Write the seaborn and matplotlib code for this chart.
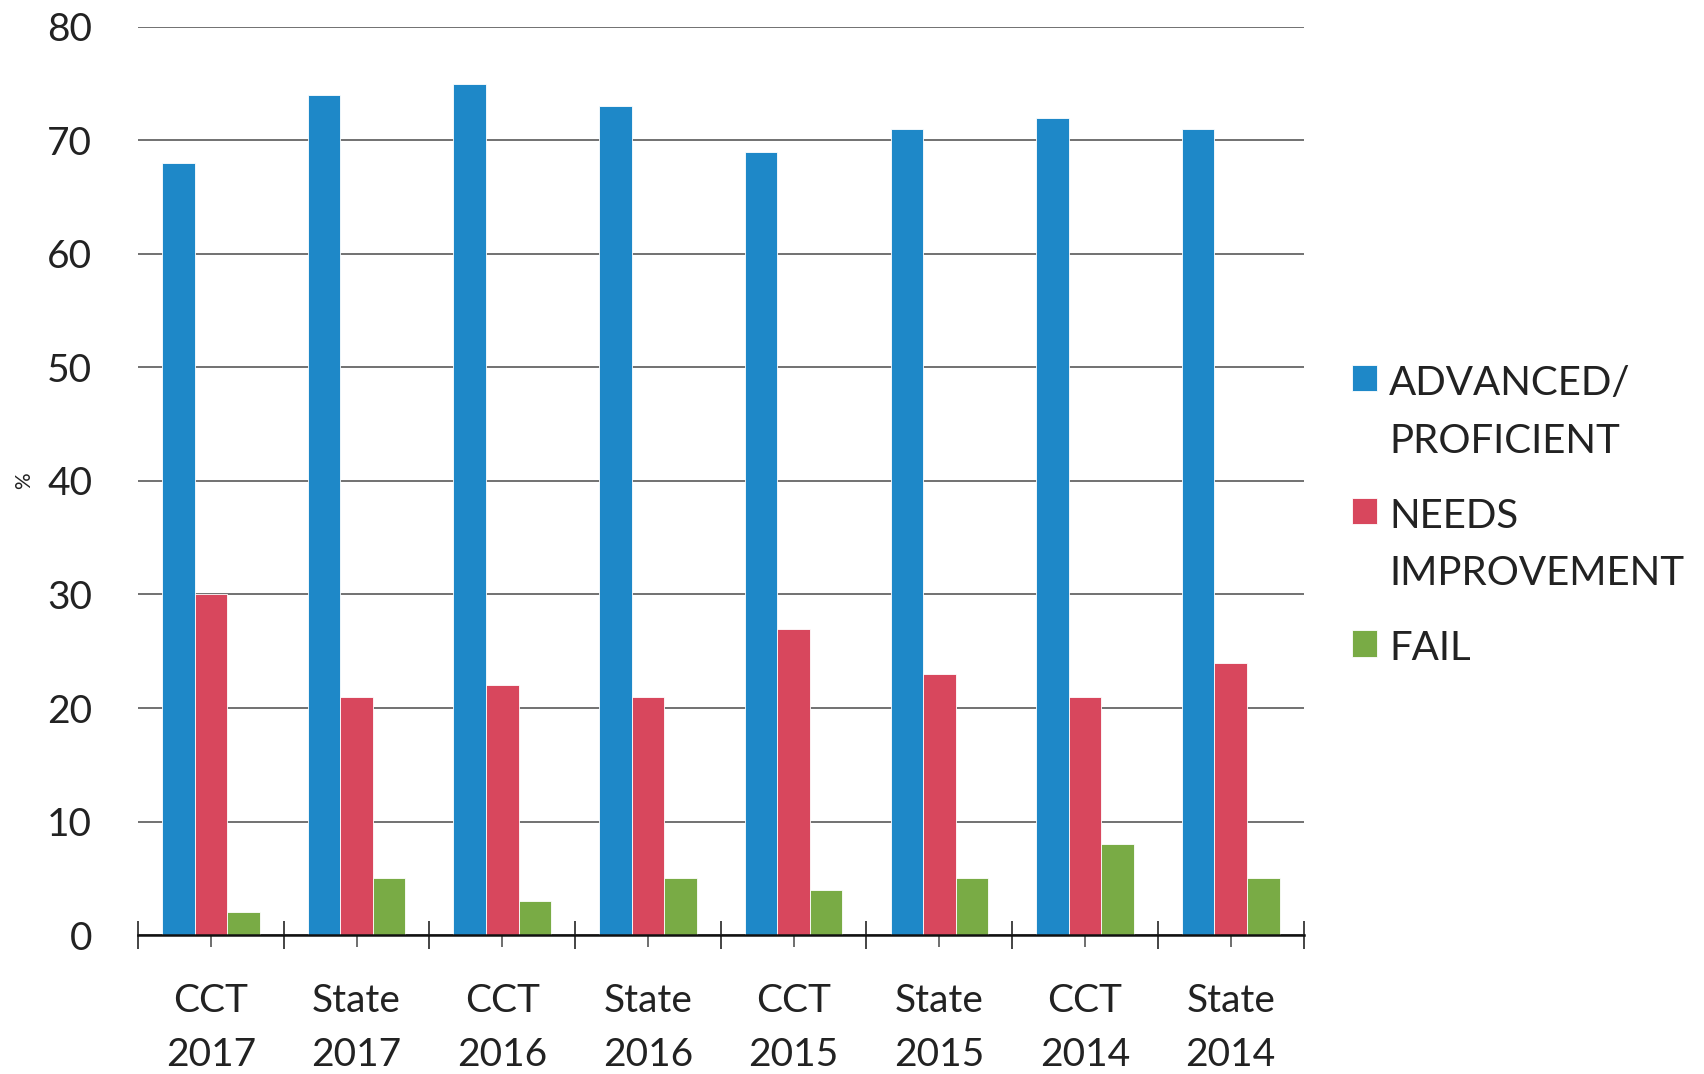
import matplotlib
matplotlib.use("Agg")
import matplotlib.pyplot as plt
import seaborn as sns
import pandas as pd
from matplotlib.ticker import FixedLocator

# Categories along the x axis
groups = ["CCT\n2017", "State\n2017", "CCT\n2016", "State\n2016",
          "CCT\n2015", "State\n2015", "CCT\n2014", "State\n2014"]
levels = ["ADVANCED/\nPROFICIENT", "NEEDS\nIMPROVEMENT", "FAIL"]

# Percent of students at each level
advanced = [68, 74, 75, 73, 69, 71, 72, 71]
needs_improvement = [30, 21, 22, 21, 27, 23, 21, 24]
fail = [2, 5, 3, 5, 4, 5, 8, 5]

colors = ["#1e88c8", "#d8475d", "#79ab45"]

rows = []
for lvl, vals in zip(levels, [advanced, needs_improvement, fail]):
    for g, v in zip(groups, vals):
        rows.append({"group": g, "level": lvl, "pct": v})
df = pd.DataFrame(rows)

sns.set_style("white")
plt.rcParams["font.family"] = ["Lato", "DejaVu Sans"]
plt.rcParams["xtick.bottom"] = True
plt.rcParams["xtick.minor.bottom"] = True

fig = plt.figure(figsize=(17.04, 10.74), dpi=100)
ax = fig.add_axes([0.081, 0.1294, 0.684, 0.8455])

sns.barplot(data=df, x="group", y="pct", hue="level", order=groups,
            hue_order=levels, palette=colors, width=0.67, gap=0,
            saturation=1, errorbar=None, ax=ax, zorder=3,
            edgecolor="white", linewidth=0.6)

ax.set_xlim(-0.5, len(groups) - 0.5)
ax.set_ylim(0, 80)
ax.set_yticks(range(0, 81, 10))
ax.yaxis.grid(True, color="#4a4a4a", linewidth=1.1, zorder=0)
ax.xaxis.grid(False)
ax.set_axisbelow(True)

for side in ["left", "right", "top"]:
    ax.spines[side].set_visible(False)
ax.spines["bottom"].set_color("#111111")
ax.spines["bottom"].set_linewidth(1.8)
ax.spines["bottom"].set_zorder(4)

ax.tick_params(axis="y", left=False, length=0, pad=33, labelsize=28,
               labelcolor="#222222")
# cross ticks at the group boundaries, shorter ones at each group centre
ax.xaxis.set_minor_locator(FixedLocator([i - 0.5 for i in range(len(groups) + 1)]))
ax.tick_params(axis="x", which="major", bottom=True, direction="inout",
               length=17, width=1.2, color="#555555", pad=26, labelsize=28,
               labelcolor="#222222")
ax.tick_params(axis="x", which="minor", bottom=True, direction="inout",
               length=20, width=1.4, color="#444444")
for lbl in ax.get_xticklabels():
    lbl.set_linespacing(1.62)

ax.set_xlabel("")
ax.set_ylabel("%", fontsize=15, labelpad=9, color="#222222")

handles, labels = ax.get_legend_handles_labels()
leg = ax.legend(handles, labels, loc="upper left",
                bbox_to_anchor=(0.7935, 0.660), bbox_transform=fig.transFigure,
                frameon=False, fontsize=29, handlelength=0.62, handleheight=0.62,
                handletextpad=0.3, labelspacing=0.95, borderpad=0,
                borderaxespad=0)
for t in leg.get_texts():
    t.set_color("#222222")
    t.set_linespacing(1.68)
# put each legend swatch beside the first line of its label
for column in leg._legend_handle_box.get_children():
    for item in column.get_children():
        item.align = "top"

fig.savefig("out.png", dpi=100, facecolor="white")
